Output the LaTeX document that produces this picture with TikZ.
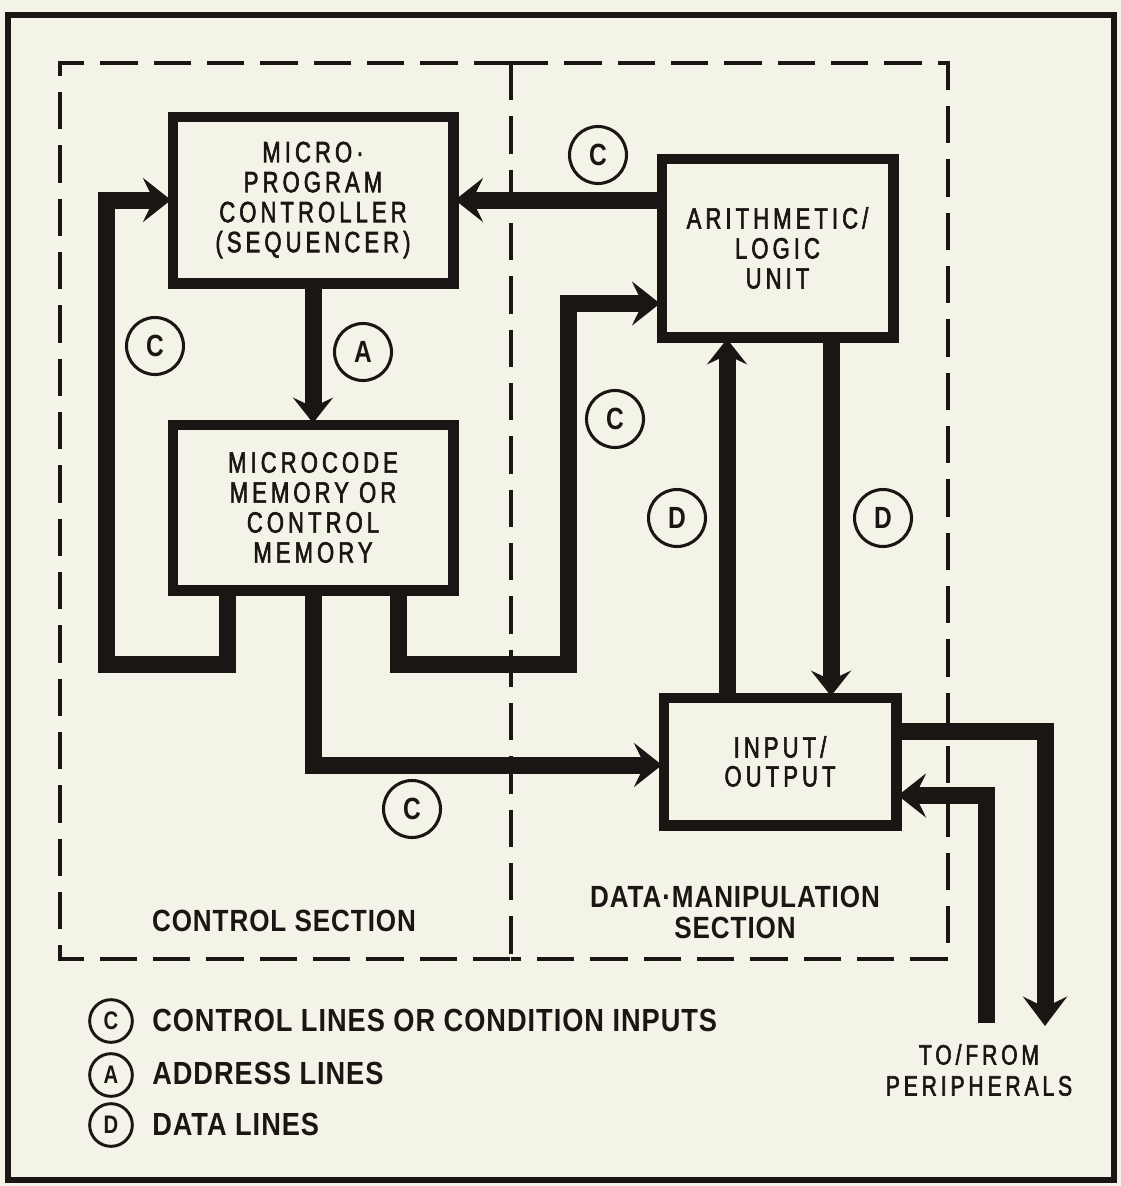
\documentclass[tikz,border=0pt]{standalone}
\usepackage{fontspec}
\setmainfont{Liberation Sans}
\newfontfamily\boxfont[FakeStretch=0.75,LetterSpace=14,FakeBold=2]{Liberation Sans}
\newfontfamily\labfont[FakeStretch=0.85,LetterSpace=3]{Liberation Sans Bold}
\newfontfamily\tagfont[FakeStretch=0.8]{Liberation Sans Bold}
\usetikzlibrary{arrows.meta,calc}
\definecolor{paper}{RGB}{244,243,231}
\definecolor{ink}{RGB}{26,22,20}
\tikzset{
  blk/.style={draw=ink, line width=5.25pt, fill=paper, inner sep=0pt, align=center,
    font=\boxfont\fontsize{22}{22.5}\selectfont, text=ink},
  bus/.style={draw=ink, line width=12.75pt, line join=miter},
  tipC/.style={-{Stealth[length=21pt,width=33pt,inset=8pt]}},
  tipD/.style={-{Stealth[length=19pt,width=30pt,inset=7pt]}},
  tag/.style={circle, draw=ink, line width=2.3pt, minimum size=42.75pt, inner sep=0pt,
    font=\tagfont\fontsize{23}{23}\selectfont, text=ink},
  ltag/.style={circle, draw=ink, line width=2.2pt, minimum size=32pt, inner sep=0pt,
    font=\tagfont\fontsize{19}{19}\selectfont, text=ink},
  sect/.style={font=\labfont\fontsize{23}{23.25}\selectfont, text=ink, align=center},
  leg/.style={font=\labfont\fontsize{24}{24}\selectfont, text=ink, anchor=west, inner sep=0pt},
  outframe/.style={draw=ink, line width=4pt},
  dashline/.style={draw=ink, line width=3.6pt, dash pattern=on 28pt off 12pt}
}
\begin{document}
\begin{tikzpicture}[x=0.75pt,y=-0.75pt]
\useasboundingbox (0,0) rectangle (1121,1186);
\fill[paper] (0,0) rectangle (1121,1186);
\draw[outframe] (8,15) rectangle (1114,1180);
% dashed section outlines
\draw[dashline] (511,63) -- (60,63) -- (60,959) -- (511,959);
\draw[dashline] (511,63) -- (948,63) -- (948,959) -- (511,959);
\draw[dashline] (511,63) -- (511,959);
% blocks
\node[blk, minimum width=207.75pt, minimum height=122.25pt] (pc) at (313,200)
  {MICRO·\\PROGRAM\\CONTROLLER\\(SEQUENCER)};
\node[blk, minimum width=207.75pt, minimum height=121.5pt] (mc) at (313,507.5)
  {MICROCODE\\MEMORY OR\\CONTROL\\MEMORY};
\node[blk, minimum width=171pt, minimum height=131.25pt] (alu) at (777.5,248)
  {ARITHMETIC/\\LOGIC\\UNIT};
\node[blk, minimum width=171.75pt, minimum height=93pt, font=\boxfont\fontsize{22}{21.75}\selectfont] (io) at (780,761.5)
  {INPUT/\\OUTPUT};
% helper coordinates
\coordinate (lc) at (106,664);
\coordinate (rc) at (568,664);
\coordinate (dup) at (727,0);
\coordinate (ddn) at (831,0);
\coordinate (pout) at (1045,1026);
\coordinate (pin) at (986,1023);
% buses
\draw[bus, tipC] ($(mc.south)+(-86,-4)$) |- (lc) |- (pc.west);
\draw[bus, tipC] (alu.west |- pc.east) -- (pc.east);
\draw[bus, tipC] ($(mc.south)+(85,-4)$) |- (rc) |- ($(alu.south west)+(0,-35.5)$);
\draw[bus, tipC] ($(mc.south)+(0,-4)$) |- ($(io.west)+(0,3.5)$);
\draw[bus, tipD] (pc.south) -- (mc.north);
\draw[bus, tipD] (io.north -| dup) -- (alu.south -| dup);
\draw[bus, tipD] (alu.south -| ddn) -- (io.north -| ddn);
\draw[bus, -{Stealth[length=22pt,width=33pt,inset=8pt]}] ($(io.north east)+(0,35.5)$) -| (pout);
\draw[bus, tipC] (pin) |- ($(io.south east)+(0,-31.5)$);
% redraw box borders on top of bus stubs
\foreach \n in {pc,mc,alu,io}{\draw[ink, line width=5.25pt] (\n.north west) rectangle (\n.south east);}
% tags
\node[tag] (t1) at (598,155) {C};
\node[tag] (t2) at (155,346) {C};
\node[tag] (t3) at (363,352) {A};
\node[tag] (t4) at (615,419) {C};
\node[tag] (t5) at (677,518) {D};
\node[tag] (t6) at (883,518) {D};
\node[tag] (t7) at (412,809) {C};
% section labels
\node[sect] (s1) at (284,921) {CONTROL SECTION};
\node[sect] (s2) at (735,912) {DATA·MANIPULATION\\SECTION};
\node[font=\boxfont\fontsize{21}{23.25}\selectfont, text=ink, align=center] (per) at (979,1070) {TO/FROM\\PERIPHERALS};
% legend
\node[ltag] (l1) at (111,1021) {C};
\node[ltag] (l2) at (111,1075) {A};
\node[ltag] (l3) at (111,1125) {D};
\node[leg] (g1) at (152,1020) {CONTROL LINES OR CONDITION INPUTS};
\node[leg] (g2) at (152,1073) {ADDRESS LINES};
\node[leg] (g3) at (152,1124) {DATA LINES};
\end{tikzpicture}
\end{document}
